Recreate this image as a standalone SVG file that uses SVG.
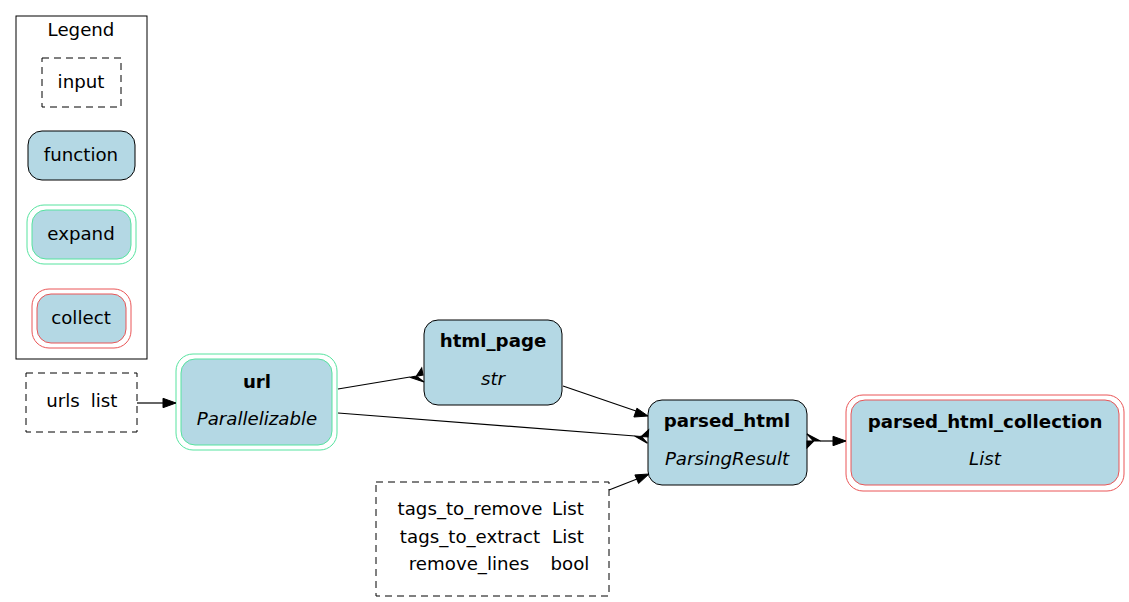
<svg xmlns="http://www.w3.org/2000/svg" width="1129" height="602" viewBox="0 0 1129 602">
<defs>
<style>
text{font-family:"DejaVu Sans",sans-serif;font-size:18.2px;fill:#000;text-anchor:middle}
.b{font-weight:bold}
.i{font-style:italic}
.fn{fill:#b4d8e4;stroke:#000;stroke-width:1}
.inp{fill:none;stroke:#000;stroke-width:1;stroke-dasharray:7,5}
.exo{fill:none;stroke:#56E39F;stroke-width:1}
.exi{fill:#b4d8e4;stroke:#56E39F;stroke-width:1}
.coo{fill:none;stroke:#EA5556;stroke-width:1}
.coi{fill:#b4d8e4;stroke:#EA5556;stroke-width:1}
.e{fill:none;stroke:#000;stroke-width:1.2}
.ah{fill:#000;stroke:#000;stroke-width:1}
.cr{fill:#000;stroke:#000;stroke-width:1.1;stroke-linejoin:miter}
</style>
</defs>
<rect width="1129" height="602" fill="#fff"/>
<g id="legend">
<rect x="16" y="16" width="131" height="343" fill="none" stroke="#000" stroke-width="1"/>
<text x="81" y="36">Legend</text>
<rect class="inp" x="42" y="58" width="79" height="49"/>
<text x="81" y="88">input</text>
<rect class="fn" x="28" y="131" width="107" height="49" rx="14"/>
<text x="81" y="161">function</text>
<rect class="exo" x="27" y="205" width="109" height="59" rx="17"/>
<rect class="exi" x="32" y="210" width="99" height="49" rx="14"/>
<text x="81" y="240">expand</text>
<rect class="coo" x="32" y="289" width="99" height="59" rx="17"/>
<rect class="coi" x="37" y="294" width="89" height="49" rx="14"/>
<text x="81" y="324">collect</text>
</g>
<g id="urls">
<rect class="inp" x="26" y="373" width="111" height="59"/>
<text x="63" y="407">urls</text>
<text x="104" y="407">list</text>
</g>
<g id="url">
<rect class="exo" x="176" y="354" width="161" height="96" rx="17"/>
<rect class="exi" x="181" y="359" width="151" height="86" rx="14"/>
<text class="b" x="257" y="388">url</text>
<text class="i" x="257" y="425">Parallelizable</text>
</g>
<g id="html_page">
<rect class="fn" x="424" y="320" width="138" height="85" rx="14"/>
<text class="b" x="493" y="347">html_page</text>
<text class="i" x="493" y="385">str</text>
</g>
<g id="parsed_html">
<rect class="fn" x="648" y="400" width="159" height="85" rx="14"/>
<text class="b" x="727" y="427">parsed_html</text>
<text class="i" x="727" y="465">ParsingResult</text>
</g>
<g id="parsed_html_collection">
<rect class="coo" x="846" y="395" width="278" height="96" rx="17"/>
<rect class="coi" x="851" y="400" width="268" height="85" rx="14"/>
<text class="b" x="985" y="428">parsed_html_collection</text>
<text class="i" x="985" y="465">List</text>
</g>
<g id="inputs">
<rect class="inp" x="376" y="482" width="233" height="114"/>
<text x="470" y="515">tags_to_remove</text>
<text x="568" y="515">List</text>
<text x="470" y="543">tags_to_extract</text>
<text x="568" y="543">List</text>
<text x="469" y="570">remove_lines</text>
<text x="570" y="570">bool</text>
</g>
<g id="connectors">
<path class="e" d="M137,403 L164,403"/>
<polygon class="ah" points="176,403 163,398.3 163,407.7"/>
<path class="e" d="M338,389 L410,377"/>
<polygon class="cr" points="409.8,377.2 424,382 416.4,376.1 423,375 421.7,368 416.4,376.1"/>
<path class="e" d="M338,413 L635,436"/>
<polygon class="cr" points="634.7,436 647.4,443.2 641.4,436.5 648,437 648.6,429.8 641.4,436.5"/>
<path class="e" d="M563,386 L636,411"/>
<polygon class="ah" points="648,416 633.9,417 636.9,408.2"/>
<path class="e" d="M609,490 L637,479"/>
<polygon class="ah" points="649,474 638.6,483.5 634.9,474.9"/>
<polygon class="cr" points="820.3,441 807,434 813.7,441 807,441 807,448 813.7,441"/>
<path class="e" d="M820,441 L834,441"/>
<polygon class="ah" points="846,441 833,436.3 833,445.7"/>
</g>
</svg>
